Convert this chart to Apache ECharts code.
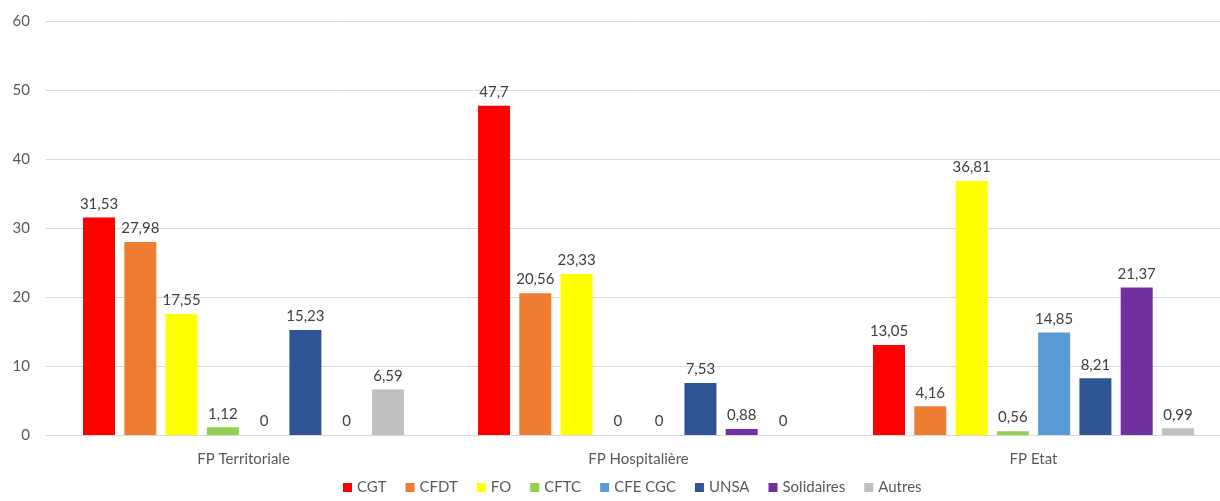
<!DOCTYPE html>
<html>
<head>
<meta charset="utf-8">
<title>Représentativité syndicale</title>
<script src="https://cdn.jsdelivr.net/npm/echarts@6/dist/echarts.min.js"></script>
<style>
  html, body { margin: 0; padding: 0; background: #fff; }
  #chart { width: 1220px; height: 501px; }
</style>
</head>
<body>
<div id="chart"></div>
<script>
// categories (fonctions publiques)
var categories = ['FP Territoriale', 'FP Hospitalière', 'FP Etat'];

// one list of values per union, in category order
var syndicats = ['CGT', 'CFDT', 'FO', 'CFTC', 'CFE CGC', 'UNSA', 'Solidaires', 'Autres'];
var cgt        = [31.53, 47.7, 13.05];
var cfdt       = [27.98, 20.56, 4.16];
var fo         = [17.55, 23.33, 36.81];
var cftc       = [1.12, 0, 0.56];
var cfeCgc     = [0, 0, 14.85];
var unsa       = [15.23, 7.53, 8.21];
var solidaires = [0, 0.88, 21.37];
var autres     = [6.59, 0, 0.99];

var yTicks = [0, 10, 20, 30, 40, 50, 60];

var valeurs = [cgt, cfdt, fo, cftc, cfeCgc, unsa, solidaires, autres];
var couleurs = ['#FF0000', '#ED7D31', '#FFFF00', '#92D050', '#5B9BD5', '#2F5597', '#7030A0', '#BFBFBF'];

var police = 'Lato, "Open Sans", sans-serif';

var chart = echarts.init(document.getElementById('chart'));

var series = syndicats.map(function (nom, i) {
  return {
    name: nom,
    type: 'bar',
    data: valeurs[i],
    barWidth: 32,
    barGap: '29%',
    itemStyle: { color: couleurs[i] },
    label: {
      show: true,
      position: 'top',
      distance: 6,
      color: '#404040',
      fontFamily: police,
      fontSize: 15,
      formatter: function (p) {
        return String(p.value).replace('.', ',');
      }
    }
  };
});

chart.setOption({
  animation: false,
  textStyle: { fontFamily: police },
  // the plot runs a little past the right edge of the picture
  grid: { left: 46, right: -11, top: 21, bottom: 66, outerBoundsMode: 'none' },
  legend: {
    bottom: 1,
    left: 338,
    icon: 'rect',
    itemWidth: 9,
    itemHeight: 9,
    itemGap: 19,
    textStyle: { color: '#595959', fontSize: 15, fontFamily: police },
    data: syndicats
  },
  xAxis: {
    type: 'category',
    data: categories,
    axisLine: { lineStyle: { color: '#D9D9D9' } },
    axisTick: { show: false },
    axisLabel: { color: '#595959', fontSize: 15, margin: 17, fontFamily: police }
  },
  yAxis: {
    type: 'value',
    min: yTicks[0],
    max: yTicks[yTicks.length - 1],
    interval: 10,
    axisLine: { show: false },
    axisTick: { show: false },
    axisLabel: { color: '#595959', fontSize: 15, margin: 16, fontFamily: police },
    splitLine: { lineStyle: { color: '#D9D9D9' } }
  },
  series: series
});
</script>
</body>
</html>
